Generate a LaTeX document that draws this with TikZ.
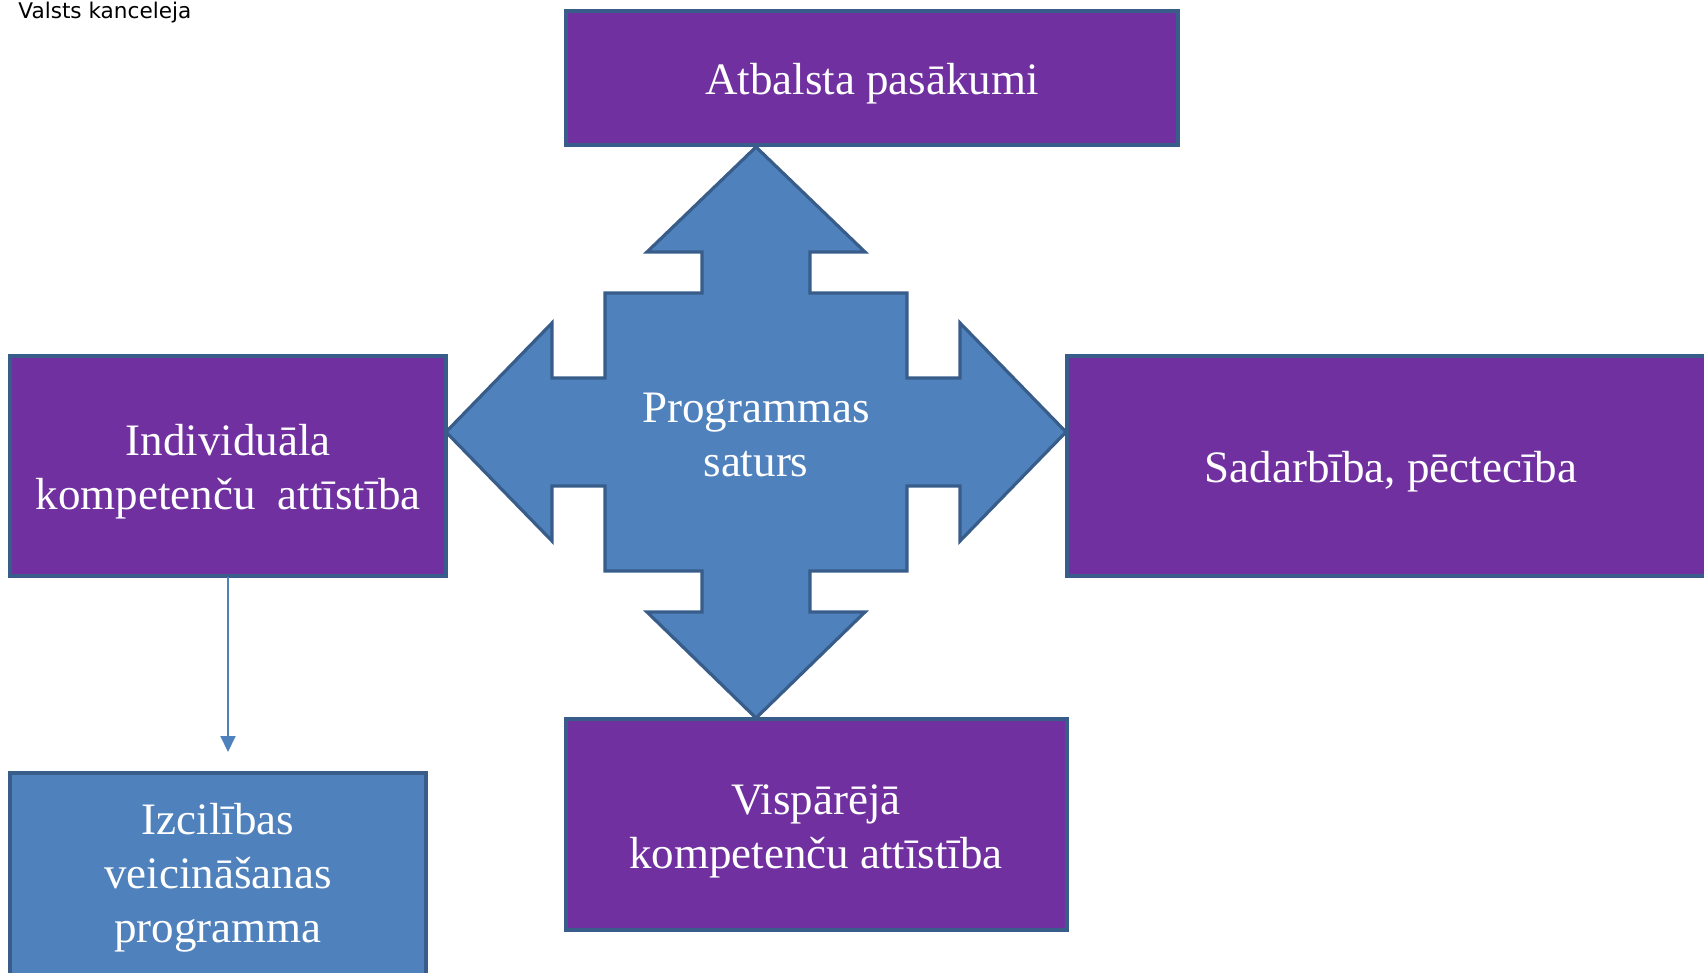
\documentclass[tikz,border=0pt]{standalone}
\usepackage{fontspec}
\setmainfont{Liberation Serif}
\newfontfamily\hdrfont{DejaVu Sans}
\usetikzlibrary{arrows.meta}
\definecolor{boxpurple}{HTML}{7030A0}
\definecolor{edgeblue}{HTML}{385D8A}
\definecolor{fillblue}{HTML}{4F81BD}
\tikzset{
  purplebox/.style={draw=edgeblue, line width=2pt, fill=boxpurple},
  bluebox/.style={draw=edgeblue, line width=2pt, fill=fillblue},
  crossarrow/.style={draw=edgeblue, line width=1.6pt, fill=fillblue, line join=miter},
  boxtext/.style={text=white, align=center, font=\fontsize{22.5pt}{27pt}\selectfont, inner sep=0pt},
  linkarrow/.style={draw=fillblue, line width=1pt, -{Triangle[length=8pt,width=7.5pt]}}
}
\begin{document}
\begin{tikzpicture}[x=0.5pt, y=-0.5pt]
\useasboundingbox (0,0) rectangle (1704,973);
% central four-way arrow
\path[crossarrow] (756,147) -- (865,252) -- (810,252) -- (810,293) -- (907,293) -- (907,378)
  -- (960,378) -- (960,323) -- (1066,432) -- (960,541) -- (960,486) -- (907,486) -- (907,571)
  -- (810,571) -- (810,612) -- (865,612) -- (756,718) -- (647,612) -- (702,612) -- (702,571)
  -- (605,571) -- (605,486) -- (552,486) -- (552,541) -- (446,432) -- (552,323) -- (552,378)
  -- (605,378) -- (605,293) -- (702,293) -- (702,252) -- (647,252) -- cycle;
\node[boxtext] (center) at (756,435) {Programmas\\saturs};
% boxes
\draw[purplebox] (566,11) rectangle (1178,145);
\node[boxtext] (top) at (872,84) {Atbalsta pasākumi};
\draw[purplebox] (10,356) rectangle (446,576);
\node[boxtext] (left) at (228,472) {Individuāla\\kompetenču~ attīstība};
\draw[purplebox] (1067,356) rectangle (1716,576);
\node[boxtext] (right) at (1391,472) {Sadarbība, pēctecība};
\draw[purplebox] (566,719) rectangle (1067,930);
\node[boxtext] (bottom) at (816,831) {Vispārējā\\kompetenču attīstība};
\draw[bluebox] (10,773) rectangle (426,985);
\node[boxtext] (excel) at (218,878) {Izcilības\\veicināšanas\\programma};
% connector
\coordinate (leftbot) at (228,577);
\coordinate (arrowend) at (228,752);
\draw[linkarrow] (leftbot) -- (arrowend);
% header
\node[anchor=base west, inner sep=0pt, font=\hdrfont\fontsize{10.8pt}{12pt}\selectfont] (hdr) at (18,19) {Valsts kanceleja};
\end{tikzpicture}
\end{document}
